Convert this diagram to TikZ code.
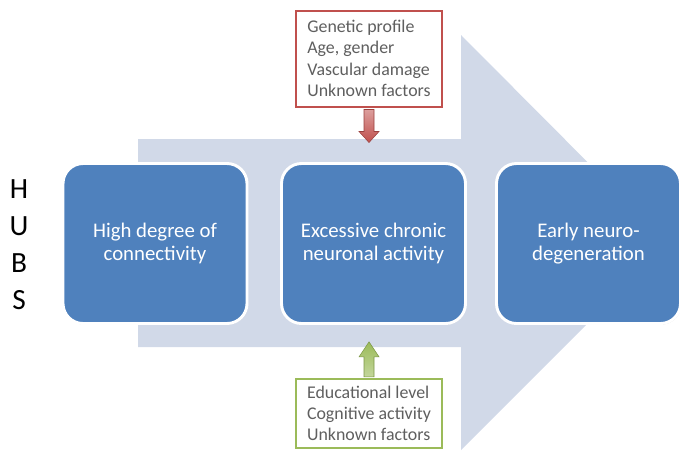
\documentclass[tikz,border=0pt]{standalone}
\usepackage{fontspec}
\setmainfont{Carlito}
\usetikzlibrary{positioning,shadows,calc}
\definecolor{stageblue}{HTML}{4F81BD}
\definecolor{flowgray}{HTML}{D1D9E8}
\definecolor{riskred}{HTML}{C0504D}
\definecolor{protgreen}{HTML}{9BBB59}
\definecolor{notegray}{HTML}{5F5F5F}

\tikzset{
  stage/.style={draw=white, line width=2.2pt, fill=stageblue, rounded corners=15pt,
    minimum width=138pt, minimum height=120pt, text=white, align=center,
    font=\fontsize{15.6}{17.5}\selectfont,
    drop shadow={shadow xshift=0.6pt, shadow yshift=-0.8pt, opacity=0.35}},
  factors/.style={draw, line width=1.5pt, fill=white, text=notegray, align=left,
    font=\fontsize{13.4}{16}\selectfont, minimum width=109pt, inner xsep=5pt,
    drop shadow={shadow xshift=0.8pt, shadow yshift=-0.8pt, opacity=0.3}},
}

\begin{document}
\begin{tikzpicture}[x=0.75pt, y=-0.75pt]
  \useasboundingbox (0,0) rectangle (680,455);
  % broad arrow behind the stages
  \fill[flowgray] (138,139) -- (461,139) -- (461,35) -- (668,243) -- (461,450)
    -- (461,347) -- (138,347) -- cycle;

  \node[stage] (hub) at (155,243.5) {High degree of\\connectivity};
  \node[stage] (act) at (373.5,243.5) {Excessive chronic\\neuronal activity};
  \node[stage] (deg) at (588.5,243.5) {Early neuro-\\degeneration};

  \node[font=\fontsize{22}{27.8}\selectfont, align=center] (hubs) at (19,245) {H\\U\\B\\S};

  \node[factors, draw=riskred, minimum height=72pt] (risk) at (369,58.5)
    {Genetic profile\\Age, gender\\Vascular damage\\Unknown factors};
  \node[factors, draw=protgreen, minimum height=52pt] (prot) at (369,413.5)
    {Educational level\\Cognitive activity\\Unknown factors};

  % fat arrows onto the flow
  \coordinate (risktip) at ($(risk.south)+(0,35)$);
  \shade[top color=riskred!55, bottom color=riskred, draw=riskred!80!black, line width=0.4pt]
    ($(risk.south)+(-5,2)$) -- ($(risktip)+(-5,-11)$) -- ($(risktip)+(-10,-11)$) -- (risktip)
    -- ($(risktip)+(10,-11)$) -- ($(risktip)+(5,-11)$) -- ($(risk.south)+(5,2)$) -- cycle;
  \coordinate (prottip) at ($(prot.north)+(0,-36)$);
  \shade[top color=protgreen, bottom color=protgreen!60, draw=protgreen!80!black, line width=0.4pt]
    ($(prot.north)+(-5,-1)$) -- ($(prottip)+(-5,15)$) -- ($(prottip)+(-10,15)$) -- (prottip)
    -- ($(prottip)+(10,15)$) -- ($(prottip)+(5,15)$) -- ($(prot.north)+(5,-1)$) -- cycle;
\end{tikzpicture}
\end{document}
